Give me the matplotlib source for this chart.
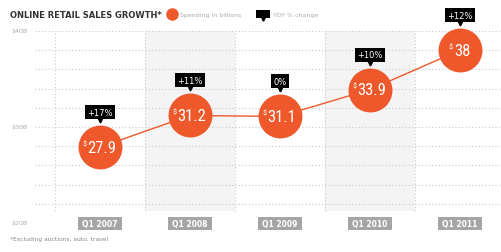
import matplotlib
matplotlib.use("Agg")
import matplotlib.pyplot as plt
from matplotlib import font_manager
from matplotlib.patches import Rectangle
from matplotlib.transforms import offset_copy

# chart data
quarters = ["Q1 2007", "Q1 2008", "Q1 2009", "Q1 2010", "Q1 2011"]
spending = [27.9, 31.2, 31.1, 33.9, 38.0]
spending_labels = ["27.9", "31.2", "31.1", "33.9", "38"]
yoy_labels = ["+17%", "+11%", "0%", "+10%", "+12%"]
y_ticks = [40, 30, 20]
y_tick_labels = ["$40B", "$30B", "$20B"]

ORANGE = "#ee582a"
GRID = "#c9c9c9"
BAND = "#f4f4f4"
W, H = 502, 253

# pick a narrow font for the bubble numbers if one is around
names = {f.name for f in font_manager.fontManager.ttflist}
narrow = "DejaVu Sans"
for cand in ["Liberation Sans Narrow", "Roboto Condensed", "Open Sans Condensed", "DejaVu Sans Condensed"]:
    if cand in names:
        narrow = cand
        break


def fx(x):
    return x / W


def fy(y):
    return 1 - y / H


fig = plt.figure(figsize=(W / 100, H / 100), dpi=100)
# axes: x 35..502 px, y 32 ($40B) .. 224 ($20B)
ax = fig.add_axes([fx(35), fy(224), fx(502) - fx(35), fy(32) - fy(224)])
ax.set_xlim(-0.722, 4.467)
ax.set_ylim(20, 40)
ax.axis("off")

xs = list(range(len(quarters)))

# shaded columns and dotted grid
band_bottom = 21.2
for i in [1, 3]:
    ax.add_patch(Rectangle((i - 0.5, band_bottom), 1, 40 - band_bottom, color=BAND, lw=0, zorder=0))
for v in range(20, 41, 2):
    ax.axhline(v, color=GRID, ls=(0, (1, 2)), lw=0.8, zorder=1)
ax.vlines([i - 0.5 for i in range(len(quarters) + 1)], band_bottom, 40,
          colors=GRID, linestyles=(0, (1, 2)), lw=0.8, zorder=1)

# line and bubbles
ax.plot(xs, spending, color=ORANGE, lw=1, zorder=3)
ax.scatter(xs, spending, s=1000, color=ORANGE, lw=0, zorder=4, clip_on=False)

fig.canvas.draw()
renderer = fig.canvas.get_renderer()
for i, (v, lab) in enumerate(zip(spending, spending_labels)):
    t = ax.annotate(lab, (i, v), xytext=(2, 0), textcoords="offset pixels",
                    ha="center", va="center", color="white", fontsize=12,
                    family=narrow, zorder=5)
    bb = t.get_window_extent(renderer)
    cx = ax.transData.transform((i, v))[0]
    ax.annotate("$", (i, v), xytext=(bb.x0 - cx - 1, 4), textcoords="offset pixels",
                ha="right", va="center", color="white", fontsize=6,
                family=narrow, zorder=5, parse_math=False)

# YOY tags
for i, (v, lab) in enumerate(zip(spending, yoy_labels)):
    ax.annotate(lab, (i, v), xytext=(0, 35), textcoords="offset pixels",
                ha="center", va="center", color="white", fontsize=6,
                bbox=dict(boxstyle="square,pad=0.3", fc="black", ec="none"),
                zorder=6, annotation_clip=False)
    tr = offset_copy(ax.transData, fig=fig, x=0, y=27, units="dots")
    ax.plot([i], [v], marker="v", ms=3.5, color="black", transform=tr,
            clip_on=False, zorder=6)

# quarter boxes on the $20B line
bw = 44 / 90
bh = 13 / 9.6
for i, q in enumerate(quarters):
    ax.add_patch(Rectangle((i - bw / 2, 20 - bh / 2 - 0.1), bw, bh, color="#a5a5a5",
                           lw=0, zorder=5, clip_on=False))
    ax.text(i, 20 - 0.1, q, ha="center", va="center", color="white",
            fontsize=5.5, fontweight="bold", zorder=6, clip_on=False)

# y labels
for v, lab in zip(y_ticks, y_tick_labels):
    ypix = 32 + (40 - v) * 9.6
    fig.text(fx(11), fy(ypix), lab, ha="left", va="center", color="#aaaaaa",
             fontsize=4.5, parse_math=False)

# title and legend
fig.text(fx(10), fy(15), "ONLINE RETAIL SALES GROWTH*", ha="left", va="center",
         color="#333333", fontsize=6, fontweight="bold")
ax.plot([fx(172)], [fy(15)], "o", ms=8, color=ORANGE, transform=fig.transFigure,
        clip_on=False)
fig.text(fx(180), fy(15), "Spending in billions", ha="left", va="center",
         color="#aaaaaa", fontsize=4.5)
fig.add_artist(Rectangle((fx(256), fy(19)), fx(14), fy(11) - fy(19), color="black",
                         lw=0, transform=fig.transFigure))
ax.plot([fx(263)], [fy(20)], marker="v", ms=2.5, color="black",
        transform=fig.transFigure, clip_on=False)
fig.text(fx(273), fy(15), "YOY % change", ha="left", va="center",
         color="#aaaaaa", fontsize=4.5)

fig.text(fx(10), fy(240), "*Excluding auctions, auto, travel", ha="left", va="center",
         color="#888888", fontsize=4.3)

fig.savefig("out.png", dpi=100, facecolor="white")
